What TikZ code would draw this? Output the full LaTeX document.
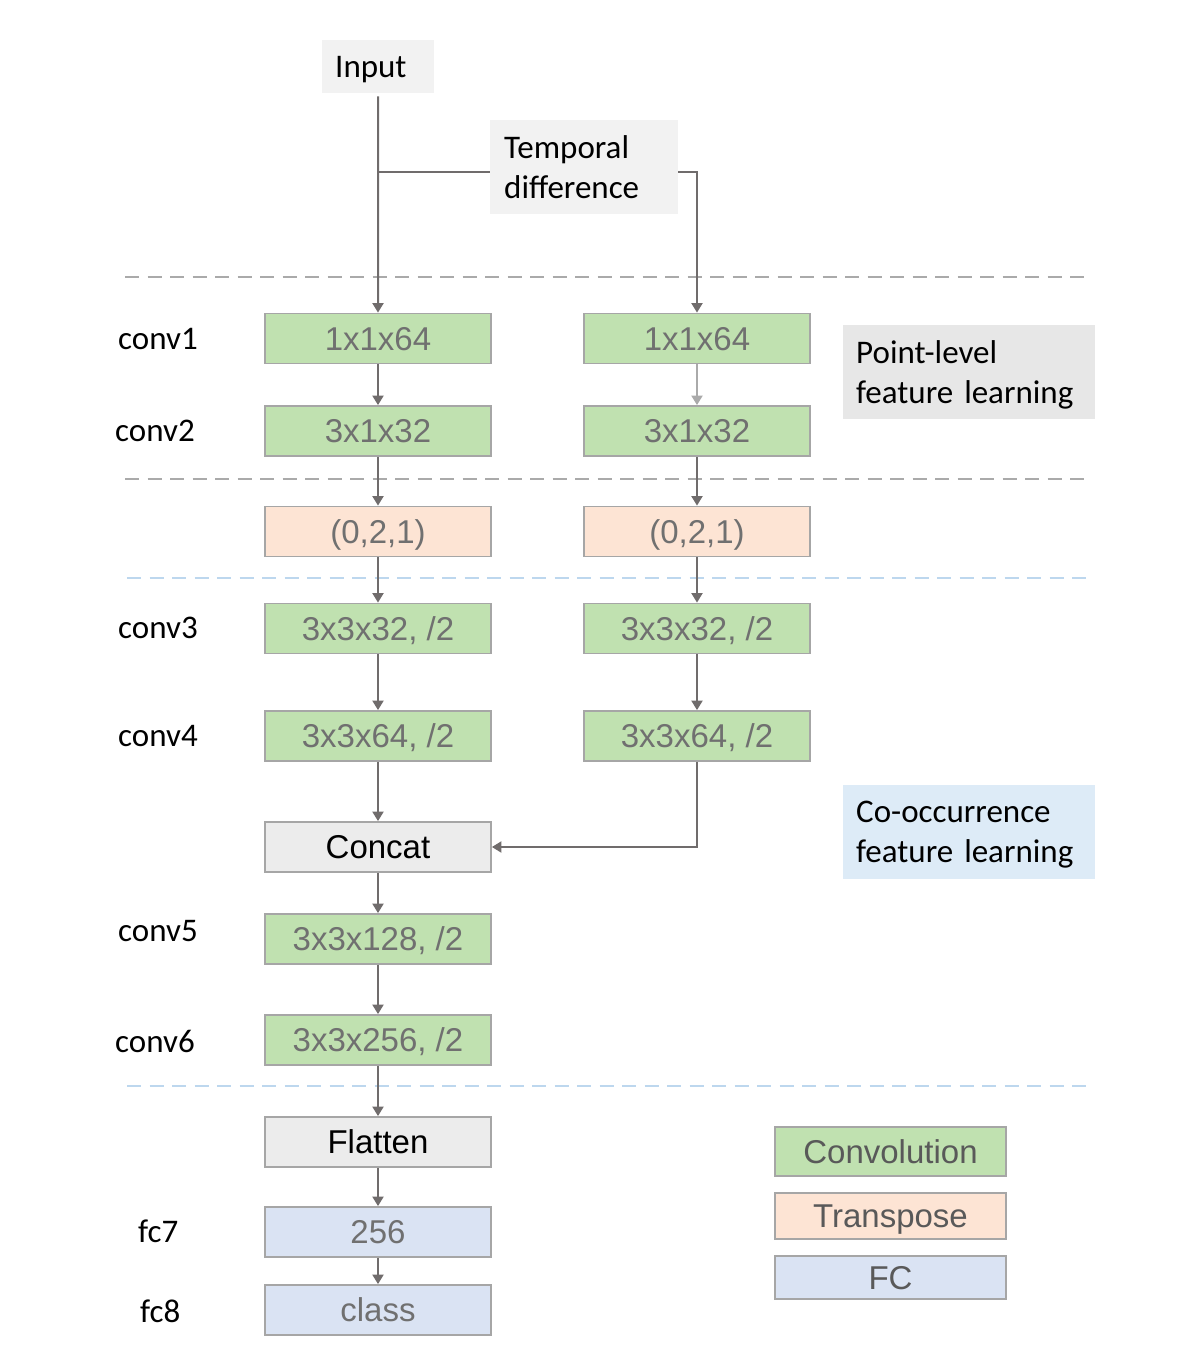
\documentclass[tikz,border=0pt]{standalone}
\usepackage{fontspec}
\setmainfont{Liberation Sans}
\newfontfamily\calfont{Carlito}
\newfontfamily\arifont{Liberation Sans}
\usetikzlibrary{arrows.meta}
\definecolor{convg}{RGB}{192,225,176}
\definecolor{transc}{RGB}{253,228,212}
\definecolor{fcc}{RGB}{218,227,243}
\definecolor{concatc}{RGB}{236,236,236}
\definecolor{inputc}{RGB}{242,242,242}
\definecolor{pointc}{RGB}{231,231,231}
\definecolor{coocc}{RGB}{221,235,247}
\definecolor{boxline}{RGB}{166,166,166}
\definecolor{boxtext}{RGB}{112,112,112}
\definecolor{legtext}{RGB}{89,89,89}
\definecolor{arrowc}{RGB}{112,108,108}
\definecolor{arrowl}{RGB}{170,170,170}
\definecolor{dashg}{RGB}{170,170,170}
\definecolor{dashb}{RGB}{189,215,238}
\begin{document}
\begin{tikzpicture}[x=1pt,y=-1pt,
  blk/.style={draw=boxline, line width=1.8pt, minimum width=226pt, minimum height=50pt,
    inner sep=0pt, text height=23.6pt, text depth=0pt,
    font=\arifont\fontsize{33}{38}\selectfont, text=boxtext},
  convbox/.style={blk, fill=convg},
  transbox/.style={blk, fill=transc},
  fcbox/.style={blk, fill=fcc},
  graybox/.style={blk, fill=concatc, text=black},
  legbox/.style={blk, minimum width=231pt, text=legtext},
  lbl/.style={font=\calfont\fontsize{33}{40}\selectfont, text=black, inner sep=0pt, anchor=base west},
  notebox/.style={anchor=north west, font=\calfont\fontsize{33}{40}\selectfont, text=black,
    align=left, inner xsep=13pt, inner ysep=0pt},
  arr/.style={draw=arrowc, line width=2pt, -{Triangle[width=11pt,length=9.5pt]}},
  arrlight/.style={draw=arrowl, line width=2pt, -{Triangle[width=11pt,length=9.5pt]}},
  plain/.style={draw=arrowc, line width=2pt},
  dashgray/.style={draw=dashg, line width=2.5pt, dash pattern=on 14pt off 8.5pt},
  dashblue/.style={draw=dashb, line width=2.5pt, dash pattern=on 14pt off 8.5pt}
]
\useasboundingbox (0,0) rectangle (1176,1362);

% separators
\draw[dashgray] (125,277) -- (1092,277);
\draw[dashgray] (125,479) -- (1092,479);
\draw[dashblue] (127,578) -- (1094,578);
\draw[dashblue] (127,1086) -- (1094,1086);

% top nodes
\node[notebox, fill=inputc, minimum width=112pt, minimum height=53pt, text width=86pt, text depth=0pt] (in) at (322,40) {Input};
\node[notebox, fill=inputc, minimum width=188pt, minimum height=94pt, text width=160pt, inner xsep=14pt] (td) at (490,120) {Temporal\\difference};

% side notes
\node[notebox, fill=pointc, minimum width=252pt, minimum height=94pt, text width=226pt, text depth=40pt] (pl) at (843,325) {Point-level\\feature learning};
\node[notebox, fill=coocc, minimum width=252pt, minimum height=94pt, text width=226pt, text depth=40pt] (co) at (843,785) {Co-occurrence\\feature learning};

% left column
\node[convbox] (c1a) at (378,338.5) {1x1x64};
\node[convbox] (c2a) at (378,431) {3x1x32};
\node[transbox] (ta) at (378,531.5) {(0,2,1)};
\node[convbox] (c3a) at (378,628.5) {3x3x32, /2};
\node[convbox] (c4a) at (378,736) {3x3x64, /2};
\node[graybox] (cat) at (378,847) {Concat};
\node[convbox] (c5) at (378,939) {3x3x128, /2};
\node[convbox] (c6) at (378,1040) {3x3x256, /2};
\node[graybox] (fl) at (378,1142) {Flatten};
\node[fcbox] (f7) at (378,1232) {256};
\node[fcbox] (f8) at (378,1310) {class};

% right column
\node[convbox] (c1b) at (697,338.5) {1x1x64};
\node[convbox] (c2b) at (697,431) {3x1x32};
\node[transbox] (tb) at (697,531.5) {(0,2,1)};
\node[convbox] (c3b) at (697,628.5) {3x3x32, /2};
\node[convbox] (c4b) at (697,736) {3x3x64, /2};

% legend
\node[legbox, fill=convg, minimum height=49pt] (lg1) at (890.5,1151.5) {Convolution};
\node[legbox, fill=transc, minimum height=46pt] (lg2) at (890.5,1216) {Transpose};
\node[legbox, fill=fcc, minimum height=43pt] (lg3) at (890.5,1277.5) {FC};

% layer labels
\node[lbl] (l1) at (118,349) {conv1};
\node[lbl] (l2) at (115,441) {conv2};
\node[lbl] (l3) at (118,638.5) {conv3};
\node[lbl] (l4) at (118,746) {conv4};
\node[lbl] (l5) at (118,941) {conv5};
\node[lbl] (l6) at (115,1052) {conv6};
\node[lbl] (l7) at (138,1242) {fc7};
\node[lbl] (l8) at (140,1322) {fc8};

% connectors
\coordinate (j) at (378,172);
\draw[arr, shorten <=3pt] (in.south) -- (c1a.north);
\draw[plain] (j) -- (j -| td.west);
\draw[arr] (j -| td.east) -| (c1b.north);

\draw[arr] (c1a) -- (c2a);
\draw[arr] (c2a) -- (ta);
\draw[arr] (ta) -- (c3a);
\draw[arr] (c3a) -- (c4a);
\draw[arr] (c4a) -- (cat);
\draw[arr] (cat) -- (c5);
\draw[arr] (c5) -- (c6);
\draw[arr] (c6) -- (fl);
\draw[arr] (fl) -- (f7);
\draw[arr] (f7) -- (f8);

\draw[arrlight] (c1b) -- (c2b);
\draw[arr] (c2b) -- (tb);
\draw[arr] (tb) -- (c3b);
\draw[arr] (c3b) -- (c4b);
\draw[arr] (c4b.south) |- (cat.east);
\end{tikzpicture}
\end{document}
